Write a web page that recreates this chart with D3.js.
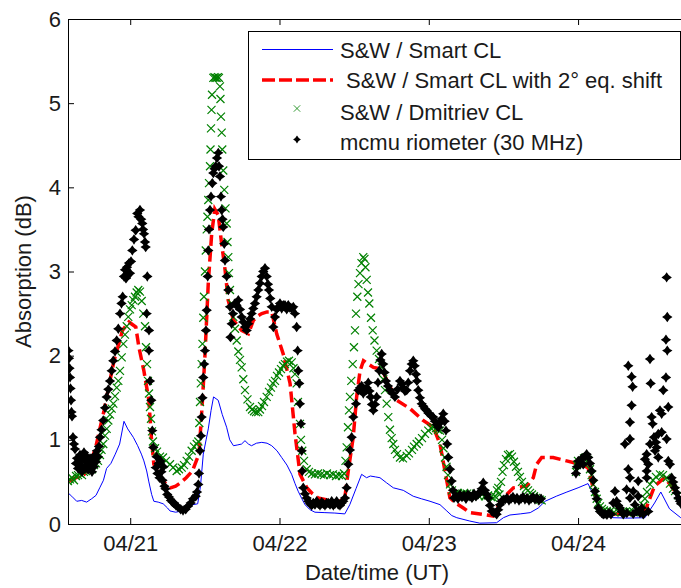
<!DOCTYPE html>
<html><head><meta charset="utf-8">
<script src="https://cdn.jsdelivr.net/npm/d3@7"></script>
<style>
body{margin:0;background:#fff}
svg{display:block}
text{font-family:"Liberation Sans",Arial,sans-serif;fill:#1a1a1a}
</style>
</head><body>
<svg id="chart" width="681" height="588"></svg>
<script>
// time: hours since 04/20 00:00 UT ; values: absorption in dB
const dayTicks = [24, 48, 72, 96];
const dayLabels = ["04/21", "04/22", "04/23", "04/24"];
const yTicks = [0, 1, 2, 3, 4, 5, 6];
const seriesNames = ["S&W / Smart CL", "S&W / Smart CL with 2° eq. shift", "S&W / Dmitriev CL", "mcmu riometer (30 MHz)"];

const smartCL = [[14.0,0.37],[14.6,0.33],[15.4,0.27],[16.2,0.28],[17.0,0.26],[17.8,0.30],[18.5,0.34],[19.1,0.43],[19.7,0.52],[20.2,0.66],[20.9,0.72],[21.6,0.83],[22.3,0.95],[23.0,1.22],[23.6,1.13],[24.5,1.03],[25.2,0.93],[25.8,0.83],[26.2,0.75],[26.65,0.63],[27.0,0.50],[27.45,0.35],[27.8,0.27],[28.5,0.26],[29.3,0.24],[30.0,0.19],[30.4,0.155],[31.3,0.14],[32.3,0.155],[33.2,0.18],[34.1,0.23],[34.85,0.24],[35.3,0.45],[35.75,0.83],[36.2,1.0],[36.55,1.13],[37.0,1.35],[37.4,1.51],[38.15,1.47],[38.8,1.30],[39.5,1.15],[40.0,1.0],[40.6,0.93],[41.3,0.94],[41.9,0.95],[42.45,0.99],[43.0,0.95],[43.5,0.93],[44.3,0.96],[45.15,0.97],[46.0,0.96],[46.75,0.93],[47.6,0.87],[48.35,0.79],[49.2,0.70],[49.95,0.59],[50.5,0.48],[51.0,0.39],[51.6,0.30],[52.1,0.23],[52.9,0.17],[53.7,0.14],[55.3,0.135],[56.9,0.13],[58.5,0.12],[59.3,0.23],[60.3,0.42],[61.2,0.59],[62.0,0.55],[62.6,0.57],[63.4,0.56],[64.15,0.55],[65.2,0.49],[66.3,0.43],[67.9,0.40],[69.5,0.33],[70.8,0.30],[72.2,0.27],[73.8,0.23],[74.9,0.155],[75.7,0.10],[76.5,0.075],[78.6,0.035],[80.2,0.01],[82.9,0.015],[84.0,0.075],[85.05,0.107],[86.7,0.12],[88.3,0.135],[89.6,0.19],[90.7,0.27],[92.5,0.33],[94.2,0.38],[96.0,0.43],[97.6,0.48],[98.7,0.31],[99.5,0.12],[101.6,0.075],[104.0,0.07],[106.75,0.075],[108.3,0.25],[109.3,0.38],[110.7,0.18],[112.5,0.075],[113.3,0.06]];

const smartShift = [[14.15,0.51],[15.3,0.55],[16.6,0.59],[17.5,0.70],[18.45,0.91],[19.8,1.35],[20.6,1.65],[21.4,1.94],[22.1,2.12],[22.75,2.30],[23.8,2.40],[24.9,2.34],[25.4,2.10],[26.2,1.82],[27.0,1.47],[27.4,1.03],[27.8,0.71],[28.9,0.55],[29.7,0.48],[30.5,0.43],[31.3,0.45],[32.1,0.49],[33.0,0.55],[34.0,0.63],[35.05,0.83],[35.2,0.99],[35.6,1.45],[36.0,1.98],[36.55,2.86],[37.1,3.45],[37.6,3.74],[38.15,3.67],[38.7,3.33],[39.25,3.02],[39.75,2.66],[40.6,2.42],[41.9,2.30],[43.0,2.26],[43.8,2.42],[44.5,2.47],[45.15,2.50],[46.0,2.52],[46.75,2.52],[47.55,2.26],[48.6,2.02],[49.7,1.67],[50.5,1.07],[51.3,0.59],[52.4,0.43],[53.3,0.36],[54.2,0.31],[55.5,0.29],[56.9,0.27],[57.7,0.27],[58.5,0.31],[59.05,0.63],[59.85,1.03],[60.4,1.51],[60.95,1.82],[61.5,1.94],[62.3,1.90],[63.1,1.86],[64.45,1.84],[65.5,1.67],[66.85,1.47],[69.0,1.37],[71.1,1.23],[72.75,1.15],[73.8,0.95],[74.6,0.63],[75.4,0.31],[76.5,0.24],[77.55,0.19],[78.6,0.135],[80.7,0.115],[82.35,0.095],[82.9,0.19],[84.0,0.31],[85.6,0.43],[87.75,0.45],[88.8,0.55],[89.35,0.71],[90.15,0.79],[92.0,0.79],[94.15,0.75],[96.3,0.71],[97.6,0.67],[98.7,0.35],[99.5,0.15],[101.1,0.12],[104.3,0.12],[106.75,0.15],[108.3,0.45],[109.9,0.55],[111.0,0.45],[112.5,0.28]];

const dmitriev = [[14.00,0.51],[14.32,0.53],[14.64,0.55],[14.96,0.52],[15.29,0.57],[15.61,0.58],[15.93,0.60],[16.25,0.58],[16.57,0.62],[16.89,0.63],[17.22,0.65],[17.54,0.66],[17.86,0.65],[18.18,0.70],[18.50,0.72],[18.82,0.75],[19.14,0.82],[19.39,0.88],[19.67,0.95],[19.95,1.05],[20.22,1.13],[20.48,1.23],[20.75,1.30],[21.02,1.37],[21.28,1.43],[21.56,1.52],[21.83,1.62],[22.09,1.70],[22.36,1.82],[22.63,1.98],[22.89,2.14],[23.16,2.25],[23.44,2.35],[23.69,2.46],[23.97,2.55],[24.24,2.60],[24.50,2.66],[24.77,2.70],[25.04,2.75],[25.30,2.78],[25.57,2.76],[25.85,2.65],[26.10,2.50],[26.38,2.35],[26.54,2.10],[26.70,1.90],[26.86,1.70],[27.02,1.55],[27.18,1.39],[27.34,1.25],[27.50,1.10],[27.66,0.98],[27.99,0.90],[28.31,0.86],[28.79,0.80],[29.27,0.79],[29.75,0.75],[30.40,0.71],[30.88,0.67],[31.47,0.63],[31.84,0.65],[32.28,0.67],[32.65,0.70],[33.08,0.75],[33.45,0.80],[33.88,0.87],[34.25,0.92],[34.69,0.95],[34.95,0.98],[35.11,1.20],[35.22,1.45],[35.35,1.67],[35.49,1.90],[35.62,2.14],[35.75,2.45],[35.86,2.70],[36.02,3.00],[36.15,3.25],[36.30,3.50],[36.42,3.65],[36.55,3.85],[36.67,4.05],[36.83,4.25],[36.91,4.45],[36.99,4.70],[37.07,4.92],[37.15,5.10],[37.36,5.30],[37.55,5.31],[37.71,5.30],[37.90,5.30],[38.11,5.31],[38.27,5.30],[38.43,5.20],[38.51,5.05],[38.59,4.84],[38.71,4.65],[38.80,4.45],[38.96,4.20],[39.12,3.97],[39.32,3.75],[39.51,3.57],[39.64,3.35],[39.77,3.17],[39.88,2.98],[40.04,2.78],[40.31,2.62],[40.57,2.46],[40.85,2.32],[41.12,2.18],[41.38,2.05],[41.65,1.95],[41.92,1.86],[42.18,1.72],[42.45,1.59],[42.85,1.48],[43.26,1.39],[43.58,1.36],[43.90,1.34],[44.22,1.33],[44.59,1.33],[44.86,1.36],[45.19,1.40],[45.51,1.45],[45.94,1.51],[46.31,1.57],[46.63,1.62],[46.95,1.67],[47.28,1.70],[47.60,1.76],[47.92,1.80],[48.24,1.84],[48.56,1.88],[48.88,1.90],[49.20,1.93],[49.53,1.94],[49.96,1.92],[50.25,1.85],[50.49,1.78],[50.76,1.67],[50.97,1.45],[51.29,1.19],[51.45,1.00],[51.66,0.87],[51.94,0.75],[52.37,0.65],[52.74,0.62],[53.22,0.60],[53.70,0.59],[54.19,0.60],[54.67,0.59],[55.15,0.58],[55.63,0.60],[56.12,0.58],[56.60,0.59],[57.08,0.57],[57.56,0.58],[58.05,0.57],[58.37,0.60],[58.61,0.75],[58.80,0.91],[59.01,1.15],[59.17,1.35],[59.33,1.51],[59.54,1.70],[59.77,1.90],[59.97,2.10],[60.14,2.30],[60.30,2.50],[60.51,2.70],[60.70,2.85],[60.94,2.98],[61.18,3.10],[61.47,3.17],[61.66,3.15],[61.82,3.05],[62.02,2.90],[62.23,2.75],[62.44,2.62],[62.71,2.45],[62.98,2.30],[63.27,2.18],[63.62,2.06],[63.99,1.96],[64.43,1.86],[64.68,1.72],[64.96,1.59],[65.23,1.43],[65.49,1.27],[65.76,1.12],[66.03,1.02],[66.29,0.95],[66.56,0.88],[66.89,0.83],[67.37,0.79],[67.85,0.78],[68.45,0.81],[68.82,0.84],[69.30,0.88],[69.62,0.92],[70.05,0.95],[70.42,0.98],[70.91,1.02],[71.39,1.07],[71.92,1.11],[72.35,1.14],[72.72,1.15],[73.16,1.14],[73.48,1.12],[73.80,1.11],[74.12,1.00],[74.36,0.90],[74.60,0.79],[74.85,0.68],[75.09,0.58],[75.41,0.47],[75.73,0.40],[76.21,0.36],[76.69,0.37],[77.18,0.35],[77.66,0.37],[78.14,0.36],[78.62,0.35],[79.10,0.34],[79.59,0.36],[80.07,0.33],[80.55,0.35],[81.03,0.33],[81.52,0.34],[82.00,0.32],[82.37,0.31],[82.64,0.33],[82.96,0.40],[83.17,0.43],[83.36,0.35],[83.61,0.50],[83.85,0.62],[84.09,0.70],[84.41,0.77],[84.73,0.82],[85.05,0.83],[85.37,0.80],[85.69,0.74],[86.02,0.68],[86.34,0.62],[86.66,0.56],[86.98,0.50],[87.30,0.45],[87.62,0.42],[87.95,0.40],[88.27,0.37],[88.59,0.35],[88.91,0.33],[89.23,0.31],[89.55,0.30],[89.87,0.29],[90.15,0.28],[95.66,0.62],[95.82,0.70],[95.98,0.75],[96.30,0.72],[96.63,0.75],[96.95,0.78],[97.27,0.79],[97.59,0.76],[97.91,0.65],[98.18,0.58],[98.44,0.47],[98.72,0.38],[98.99,0.30],[99.25,0.25],[99.52,0.21],[99.84,0.18],[100.16,0.16],[100.60,0.155],[101.13,0.15],[101.77,0.14],[102.41,0.15],[103.06,0.14],[103.70,0.15],[104.34,0.15],[104.98,0.14],[105.63,0.16],[106.11,0.18],[106.48,0.22],[106.75,0.30],[107.08,0.38],[107.56,0.47],[108.04,0.52],[108.52,0.56],[109.17,0.59],[109.65,0.58],[110.24,0.55],[110.77,0.48],[111.26,0.42],[111.58,0.39],[112.06,0.34],[112.54,0.31]];

const riometer = [[14.08,2.06],[14.16,1.97],[14.24,1.85],[14.32,1.74],[14.40,1.61],[14.48,1.47],[14.56,1.33],[14.64,1.28],[14.80,1.03],[14.96,0.95],[15.13,0.89],[15.29,0.72],[15.45,0.78],[15.61,0.66],[15.77,0.75],[15.93,0.82],[16.09,0.70],[16.25,0.62],[16.41,0.78],[16.57,0.85],[16.73,0.68],[16.89,0.74],[17.05,0.80],[17.22,0.65],[17.38,0.72],[17.54,0.78],[17.70,0.70],[17.86,0.62],[18.02,0.76],[18.18,0.68],[18.34,0.82],[18.50,0.74],[18.66,0.87],[18.82,0.80],[18.98,0.92],[19.14,1.03],[19.39,1.12],[19.67,1.23],[19.95,1.38],[20.22,1.51],[20.48,1.60],[20.75,1.70],[21.02,1.82],[21.28,1.94],[21.56,2.05],[21.83,2.18],[22.09,2.32],[22.36,2.50],[22.60,2.62],[22.79,2.70],[23.00,2.94],[23.16,3.02],[23.32,2.92],[23.48,3.05],[23.65,2.96],[23.81,3.10],[23.97,2.98],[24.13,3.12],[24.34,3.25],[24.61,3.38],[24.88,3.49],[25.14,3.69],[25.33,3.65],[25.57,3.73],[25.76,3.62],[25.94,3.57],[26.06,3.50],[26.22,3.45],[26.38,3.35],[26.49,3.29],[26.75,2.94],[26.65,2.50],[27.02,2.30],[27.02,2.06],[27.18,1.70],[27.39,1.47],[27.55,1.11],[27.71,0.91],[28.10,0.67],[28.23,0.80],[28.39,0.60],[28.55,0.72],[28.71,0.55],[28.90,0.75],[29.03,0.62],[29.19,0.52],[29.35,0.68],[29.51,0.45],[29.67,0.42],[29.96,0.35],[30.24,0.32],[30.56,0.28],[30.80,0.26],[31.04,0.25],[31.36,0.22],[31.68,0.20],[32.12,0.175],[32.49,0.16],[32.92,0.175],[33.29,0.21],[33.72,0.25],[34.09,0.30],[34.53,0.33],[34.74,0.38],[34.95,0.47],[35.06,0.60],[35.22,0.87],[35.38,1.05],[35.49,1.27],[35.62,1.50],[35.75,1.74],[35.89,1.90],[36.02,2.06],[36.18,2.30],[36.30,2.54],[36.46,2.94],[36.55,3.25],[36.67,3.50],[36.83,3.73],[36.99,3.89],[37.20,4.05],[37.36,4.17],[37.55,4.22],[37.74,4.25],[37.95,4.35],[38.16,4.41],[38.27,4.25],[38.43,4.13],[38.59,3.89],[38.71,3.73],[38.84,3.62],[38.96,3.53],[39.12,3.33],[39.24,3.13],[39.51,2.94],[39.77,2.78],[40.04,2.58],[40.31,2.38],[40.12,2.22],[40.52,2.50],[40.85,2.62],[41.09,2.60],[41.38,2.66],[41.65,2.55],[41.92,2.46],[42.18,2.40],[42.45,2.34],[42.72,2.30],[42.98,2.38],[43.26,2.44],[43.53,2.50],[43.79,2.56],[44.06,2.62],[44.33,2.70],[44.59,2.78],[44.86,2.86],[45.14,2.94],[45.39,3.00],[45.67,3.04],[45.94,2.94],[46.15,2.85],[46.31,2.78],[46.52,2.68],[46.75,2.58],[47.01,2.34],[47.28,2.46],[47.55,2.55],[47.81,2.58],[48.08,2.62],[48.35,2.56],[48.61,2.60],[48.88,2.60],[49.16,2.55],[49.41,2.60],[49.69,2.57],[49.96,2.56],[50.22,2.58],[50.49,2.50],[50.76,2.34],[50.92,2.06],[51.02,1.82],[51.17,1.67],[51.29,1.43],[51.45,1.19],[51.57,0.87],[51.66,0.63],[51.82,0.43],[52.10,0.36],[52.37,0.31],[52.63,0.27],[52.90,0.24],[53.17,0.22],[53.43,0.25],[53.70,0.23],[53.98,0.27],[54.24,0.24],[54.51,0.22],[54.78,0.26],[55.04,0.24],[55.31,0.22],[55.59,0.25],[55.84,0.25],[56.12,0.23],[56.39,0.27],[56.65,0.22],[56.92,0.24],[57.19,0.27],[57.45,0.23],[57.72,0.22],[58.00,0.25],[58.25,0.27],[58.53,0.31],[58.80,0.43],[59.06,0.71],[59.33,0.88],[59.60,1.03],[59.86,1.27],[60.30,1.43],[60.67,1.59],[60.94,1.62],[61.21,1.64],[61.47,1.55],[61.74,1.59],[62.02,1.62],[62.27,1.68],[62.47,1.58],[62.66,1.51],[62.87,1.42],[63.08,1.35],[63.35,1.42],[63.62,1.51],[63.83,1.68],[64.04,1.82],[64.23,1.95],[64.43,2.02],[64.68,1.90],[64.88,1.80],[65.12,1.70],[65.44,1.64],[65.76,1.59],[66.16,1.55],[66.56,1.51],[66.97,1.60],[67.37,1.70],[67.64,1.66],[67.90,1.62],[68.17,1.58],[68.45,1.59],[68.70,1.68],[68.98,1.82],[69.25,1.90],[69.51,1.94],[69.74,1.88],[69.94,1.78],[70.10,1.70],[70.31,1.59],[70.58,1.50],[70.86,1.43],[71.12,1.40],[71.39,1.37],[71.66,1.35],[71.92,1.32],[72.19,1.30],[72.46,1.28],[72.72,1.27],[72.99,1.22],[73.27,1.18],[73.53,1.15],[73.80,1.20],[74.07,1.25],[74.33,1.31],[74.55,1.22],[74.76,1.11],[74.96,0.95],[75.13,0.79],[75.41,0.65],[75.68,0.51],[75.89,0.40],[76.05,0.31],[76.37,0.33],[76.69,0.30],[77.01,0.35],[77.34,0.32],[77.66,0.34],[77.98,0.30],[78.30,0.35],[78.62,0.33],[78.94,0.31],[79.27,0.36],[79.59,0.33],[79.91,0.35],[80.23,0.38],[80.50,0.42],[80.76,0.49],[81.03,0.40],[81.31,0.35],[81.56,0.31],[81.84,0.22],[82.11,0.155],[82.37,0.14],[82.64,0.135],[82.91,0.115],[83.17,0.17],[83.44,0.23],[83.71,0.27],[83.98,0.29],[84.25,0.29],[84.57,0.31],[84.89,0.28],[85.21,0.30],[85.53,0.32],[85.86,0.29],[86.18,0.31],[86.50,0.28],[86.82,0.30],[87.14,0.32],[87.46,0.29],[87.79,0.31],[88.11,0.28],[88.43,0.30],[88.75,0.32],[89.07,0.29],[89.39,0.31],[89.71,0.28],[90.04,0.30],[95.66,0.60],[95.82,0.68],[96.03,0.75],[96.30,0.71],[96.57,0.78],[96.83,0.71],[97.11,0.80],[97.38,0.83],[97.64,0.79],[97.91,0.72],[98.18,0.63],[98.44,0.52],[98.72,0.39],[98.99,0.30],[99.25,0.19],[99.52,0.15],[99.79,0.13],[100.05,0.115],[100.32,0.12],[100.64,0.11],[100.97,0.13],[101.29,0.115],[101.66,0.25],[101.93,0.39],[102.20,0.27],[102.46,0.22],[102.74,0.19],[103.01,0.15],[103.27,0.115],[103.53,0.95],[103.80,0.41],[103.85,0.13],[104.07,1.88],[104.07,0.65],[104.34,1.21],[104.34,1.01],[104.34,0.55],[104.34,0.31],[104.61,1.75],[104.61,1.41],[104.77,1.63],[104.87,0.39],[104.87,0.12],[105.14,0.23],[105.42,0.15],[105.67,0.51],[105.67,0.33],[105.95,0.13],[106.22,0.19],[106.48,0.115],[106.75,0.77],[107.03,0.55],[107.03,0.63],[107.03,0.83],[107.29,0.71],[107.29,0.15],[107.56,0.95],[107.56,1.96],[107.67,1.67],[107.83,1.27],[107.99,1.19],[108.20,1.03],[108.37,0.87],[108.52,0.97],[108.63,0.91],[108.89,1.07],[108.89,0.79],[109.17,1.35],[109.44,1.31],[109.44,1.09],[109.70,1.59],[110.13,1.74],[110.13,2.19],[110.24,2.93],[110.34,2.46],[110.34,2.06],[110.50,1.39],[110.24,1.01],[110.50,0.75],[110.77,0.71],[111.05,0.55],[111.30,0.50],[111.58,0.43],[111.85,0.37],[112.11,0.31],[112.38,0.27],[112.54,0.24]];

const W = 681, H = 588;
const plot = {left: 68, top: 19, right: 686, bottom: 524};
const FONT = 22;

const svg = d3.select("#chart");
const x = d3.scaleLinear().domain([14, 113.35]).range([plot.left, plot.right]);
const y = d3.scaleLinear().domain([0, 6]).range([plot.bottom, plot.top]);

svg.append("defs").append("clipPath").attr("id", "clip")
  .append("rect").attr("x", plot.left).attr("y", plot.top)
  .attr("width", plot.right - plot.left).attr("height", plot.bottom - plot.top);

const data = svg.append("g").attr("clip-path", "url(#clip)");
const line = d3.line().x(d => x(d[0])).y(d => y(d[1]));

data.append("path").datum(smartCL).attr("d", line)
  .attr("fill", "none").attr("stroke", "#0000ff").attr("stroke-width", 1);
data.append("path").datum(smartShift).attr("d", line)
  .attr("fill", "none").attr("stroke", "#ff0000").attr("stroke-width", 3.5)
  .attr("stroke-dasharray", "11,5");

const xMark = "M-4,-4L4,4M-4,4L4,-4";
const dMark = "M0,-5.2Q1.7,-1.7 5.2,0Q1.7,1.7 0,5.2Q-1.7,1.7 -5.2,0Q-1.7,-1.7 0,-5.2Z";

data.append("g").selectAll("path").data(dmitriev).join("path")
  .attr("d", xMark).attr("transform", d => `translate(${x(d[0])},${y(d[1])})`)
  .attr("fill", "none").attr("stroke", "#008000").attr("stroke-width", 1.2);
data.append("g").selectAll("path").data(riometer).join("path")
  .attr("d", dMark).attr("transform", d => `translate(${x(d[0])},${y(d[1])})`)
  .attr("fill", "#000");

// axes
const axB = d3.axisBottom(x).tickValues(dayTicks).tickFormat((d, i) => dayLabels[i])
  .tickSizeInner(-6).tickSizeOuter(0).tickPadding(11);
const axT = d3.axisTop(x).tickValues(dayTicks).tickFormat("")
  .tickSizeInner(-6).tickSizeOuter(0);
const axL = d3.axisLeft(y).tickValues(yTicks).tickFormat(d3.format("d"))
  .tickSizeInner(-6).tickSizeOuter(0).tickPadding(7);

function style(g) {
  g.selectAll(".domain").attr("stroke", "#000").attr("stroke-width", 1);
  g.selectAll(".tick line").attr("stroke", "#000").attr("stroke-width", 1);
  g.selectAll("text").attr("font-size", FONT).attr("fill", "#1a1a1a")
    .attr("font-family", '"Liberation Sans", Arial, sans-serif');
}
svg.append("g").attr("transform", `translate(0,${plot.bottom})`).call(axB).call(style);
svg.append("g").attr("transform", `translate(0,${plot.top})`).call(axT).call(style);
svg.append("g").attr("transform", `translate(${plot.left},0)`).call(axL).call(style);
svg.append("line").attr("x1", plot.right).attr("x2", plot.right)
  .attr("y1", plot.top).attr("y2", plot.bottom).attr("stroke", "#000");

// axis titles
svg.append("text").attr("x", (plot.left + plot.right) / 2).attr("y", 580)
  .attr("text-anchor", "middle").attr("font-size", FONT).text("Date/time (UT)");
svg.append("text").attr("transform", `translate(31,${(plot.top + plot.bottom) / 2}) rotate(-90)`)
  .attr("text-anchor", "middle").attr("font-size", FONT).text("Absorption (dB)");

// legend
const lg = svg.append("g");
lg.append("rect").attr("x", 248.5).attr("y", 31.5).attr("width", 432).attr("height", 128)
  .attr("fill", "#fff").attr("stroke", "#000").attr("stroke-width", 1);
const rowY = [58, 88, 120, 150];
const textX = [340, 346, 340, 340];
lg.append("line").attr("x1", 262).attr("x2", 333).attr("y1", 49.5).attr("y2", 49.5)
  .attr("stroke", "#0000ff").attr("stroke-width", 1);
lg.append("line").attr("x1", 262).attr("x2", 333).attr("y1", 80).attr("y2", 80)
  .attr("stroke", "#ff0000").attr("stroke-width", 3.5).attr("stroke-dasharray", "13,4");
lg.append("path").attr("d", xMark).attr("transform", "translate(297,108.5) scale(0.8)")
  .attr("fill", "none").attr("stroke", "#008000");
lg.append("path").attr("d", dMark).attr("transform", "translate(297,139.5) scale(0.75)")
  .attr("fill", "#000");
seriesNames.forEach((s, i) => {
  lg.append("text").attr("x", textX[i]).attr("y", rowY[i]).attr("font-size", FONT).text(s);
});
</script>
</body></html>
